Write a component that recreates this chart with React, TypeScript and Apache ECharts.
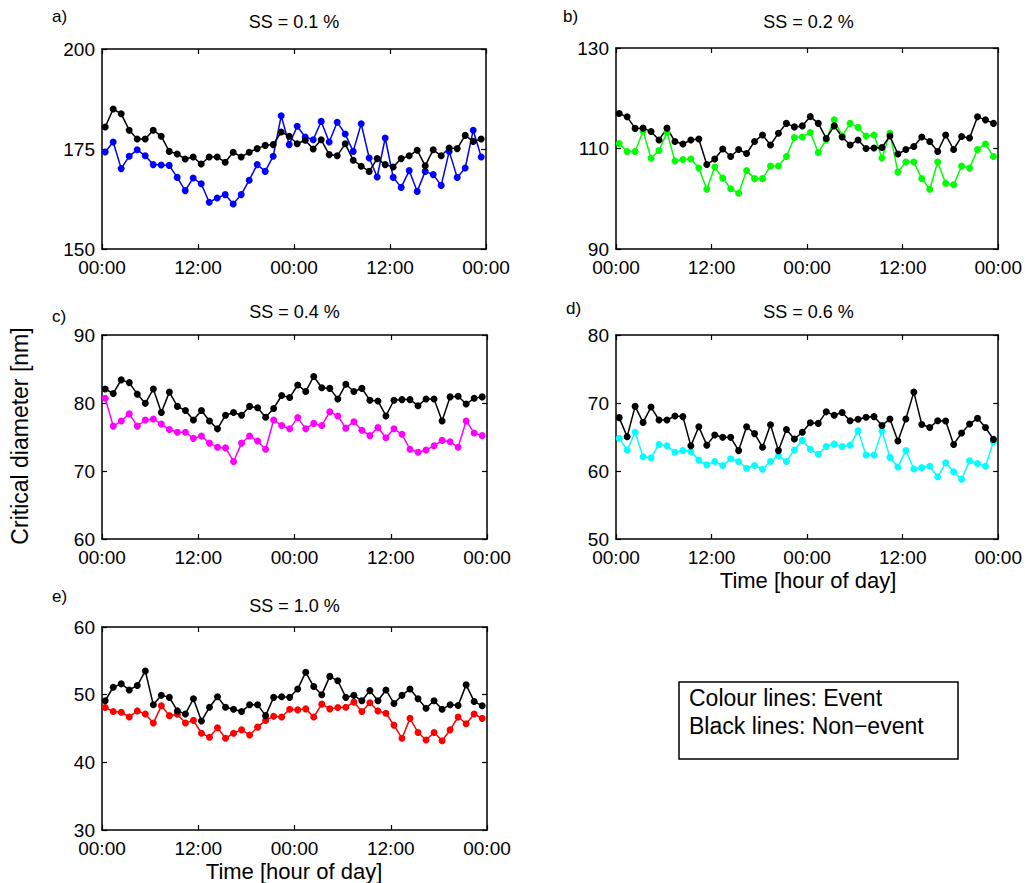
import React, { useEffect, useRef } from "react";
import * as echarts from "echarts";

// Hourly sample times over two days (hours since the first midnight)
const hours = Array.from({ length: 48 }, (_, i) => i + 0.4);

// SS = 0.1 %
const aEvent = [174.25, 176.75, 170.1, 173.2, 174.8, 173.3, 171.1, 171, 170.9, 167.9,
  164.6, 167.75, 166.3, 161.7, 162.75, 163.6, 161.25, 163.6, 167.2, 171.1,
  169.4, 173.2, 183.3, 176.1, 180.7, 178, 177.3, 181.9, 176.75, 181.7,
  178.75, 174.4, 181.3, 172.75, 168, 177.75, 167.9, 165.4, 169.6, 164.4,
  169.4, 168.6, 165.9, 174.4, 167.9, 170.25, 179.7, 173];
const aNonEvent = [180.5, 185, 183.8, 179.7, 177.5, 177.5, 179.7, 178.2, 174.4, 173.75,
  172.5, 173, 171.25, 173, 173, 171.7, 174.2, 173, 174.2, 175.1,
  175.9, 176.1, 179.25, 178.2, 176.3, 177.2, 175, 177.3, 173.6, 173.3,
  176.3, 172.2, 170.7, 169.4, 172.6, 171.1, 170.5, 172.6, 173.3, 174.7,
  170.8, 174.8, 173.3, 175.25, 175.1, 178.4, 176.9, 177.5];

// SS = 0.2 %
const bEvent = [111, 109.4, 109.4, 113.5, 108.05, 109.6, 113.2, 107.5, 107.8, 107.9,
  106.1, 101.9, 106.3, 104.1, 102, 101.1, 105.6, 104, 104, 106.5,
  106.5, 108.4, 112.2, 112.3, 113.2, 109.2, 111.7, 115.7, 112.5, 115,
  114.2, 112.5, 112.7, 108.1, 113.05, 105.3, 107.3, 107.3, 104, 101.9,
  107.3, 103.1, 102.8, 106.5, 106.1, 109.8, 110.9, 108.4];
const bNonEvent = [116.95, 116.3, 114, 114.05, 113.4, 111.7, 114.05, 111.4, 110.9, 111.7,
  111.9, 106.8, 107.9, 109.9, 108.4, 109.8, 109, 111.4, 112.7, 110.7,
  113.05, 115, 114.3, 114.5, 116.35, 115, 112, 114.5, 112.3, 110.7,
  111.7, 110, 110.1, 110.2, 112.5, 108.9, 109.8, 110.4, 112.3, 111.4,
  109.4, 112.7, 109.8, 112.4, 112.1, 116.3, 115.7, 115];

// SS = 0.4 %
const cEvent = [80.7, 76.6, 77.35, 78.4, 76.6, 77.5, 77.65, 76.9, 76.1, 75.7,
  75.7, 74.8, 75.15, 74.1, 73.5, 73.4, 71.4, 74.1, 75.15, 74.4,
  73.2, 77.5, 76.7, 76.2, 77.85, 76.2, 77, 76.7, 78.7, 78.1,
  76.3, 77.25, 76, 75.2, 76.4, 74.9, 76.2, 75.4, 73.2, 72.75,
  73.1, 73.7, 74.5, 74.3, 73.5, 77.35, 75.6, 75.2];
const cNonEvent = [82.06, 81.4, 83.4, 83, 81.3, 79.95, 82.06, 78.6, 81.6, 79.5,
  78.9, 77.5, 78.9, 77.35, 76.2, 78.2, 78.6, 78.2, 79.5, 79.3,
  77.9, 79.2, 81.1, 80.8, 82.65, 81.7, 83.9, 82.25, 82.15, 80.6,
  82.75, 81.7, 82.15, 80.4, 80.3, 78.1, 80.4, 80.5, 80.5, 79.6,
  80.6, 80.6, 77.35, 80.9, 81, 79.85, 80.7, 80.9];

// SS = 0.6 %
const dEvent = [64.8, 63.1, 65.7, 62.1, 61.95, 63.9, 63.7, 62.75, 63, 62.85,
  61.6, 60.9, 61.4, 60.8, 61.8, 61.4, 60.4, 60.8, 60.25, 61.4,
  62.25, 61.4, 63.1, 64.5, 63.2, 62.45, 63.6, 63.95, 63.6, 63.8,
  65.9, 62.35, 62.35, 65.9, 62, 60.6, 63, 60.3, 60.5, 60.7,
  59.15, 61.2, 59.9, 58.8, 61.5, 61.1, 60.7, 64.3];
const dNonEvent = [67.85, 65.05, 69.5, 67.15, 69.4, 67.5, 67.5, 68.1, 68, 63.7,
  66.5, 63.8, 65.3, 64.95, 64.95, 63, 66.5, 65.5, 63.5, 66.8,
  63, 66.1, 64.7, 65.7, 67.1, 67, 68.7, 68.2, 68.6, 67.4,
  67.6, 67.9, 68, 66.7, 67.65, 64.4, 67.65, 71.6, 66.85, 66.4,
  67.4, 67.35, 63.9, 65.6, 66.9, 67.75, 66.4, 64.65];

// SS = 1.0 %
const eEvent = [48.1, 47.5, 47.4, 46.7, 47.6, 47.15, 45.8, 48.35, 46.9, 47.1,
  45.8, 46.2, 44.3, 43.7, 45.1, 43.55, 44.3, 44.8, 44.05, 45.2,
  46.2, 46.8, 46.7, 47.85, 47.75, 47.9, 46.7, 48.6, 47.9, 48.1,
  48.15, 48.9, 47.5, 48.8, 47.6, 47.25, 45.5, 43.55, 46.5, 44.4,
  43.3, 44.4, 43.2, 44.8, 46.7, 45.7, 47.15, 46.5];
const eNonEvent = [49.1, 51.1, 51.6, 50.7, 51.35, 53.5, 48.5, 49.9, 49.6, 47.6,
  47.15, 49.4, 46.1, 48.15, 49.7, 48.15, 47.85, 47.5, 48.5, 48.5,
  46.9, 49.6, 49.7, 49.6, 50.85, 53.3, 51.2, 50, 52.7, 52.05,
  49.6, 49.9, 49.1, 50.6, 49.1, 50.7, 48.7, 49.9, 50.85, 49.4,
  48, 49.1, 47.85, 48.5, 48.4, 51.45, 49, 48.35];

const xTicks = [0, 12, 24, 36, 48];
const xTickLabels = ["00:00", "12:00", "00:00", "12:00", "00:00"];

const FONT = "'Liberation Sans', Arial, Helvetica, sans-serif";

const panels = [
  { letter: "a)", title: "SS = 0.1 %", event: aEvent, non: aNonEvent, color: "#0000ff",
    yMin: 150, yMax: 200, yStep: 25,
    box: { left: 102, top: 49, width: 384, height: 200 }, letterPos: [52, 18], titleY: 22 },
  { letter: "b)", title: "SS = 0.2 %", event: bEvent, non: bNonEvent, color: "#00ff00",
    yMin: 90, yMax: 130, yStep: 20,
    box: { left: 616, top: 48, width: 385, height: 201 }, letterPos: [563, 18], titleY: 22 },
  { letter: "c)", title: "SS = 0.4 %", event: cEvent, non: cNonEvent, color: "#ff00ff",
    yMin: 60, yMax: 90, yStep: 10,
    box: { left: 102, top: 335, width: 385, height: 204 }, letterPos: [52, 318], titleY: 312 },
  { letter: "d)", title: "SS = 0.6 %", event: dEvent, non: dNonEvent, color: "#00ffff",
    yMin: 50, yMax: 80, yStep: 10,
    box: { left: 616, top: 335, width: 385, height: 204 }, letterPos: [566, 310], titleY: 312 },
  { letter: "e)", title: "SS = 1.0 %", event: eEvent, non: eNonEvent, color: "#ff0000",
    yMin: 30, yMax: 60, yStep: 10,
    box: { left: 102, top: 627, width: 385, height: 203 }, letterPos: [52, 598], titleY: 606 },
];

const pair = (vals: number[]) => vals.map((v, i) => [hours[i], v]);

function buildOption() {
  const grid: any[] = [];
  const xAxis: any[] = [];
  const yAxis: any[] = [];
  const series: any[] = [];
  const graphic: any[] = [];

  const line = { show: true, onZero: false, lineStyle: { color: "#000", width: 1.5 } };
  const tick = { show: true, inside: true, length: 5, lineStyle: { color: "#000", width: 1.2 } };
  const label = { color: "#000", fontSize: 19, fontFamily: FONT, lineHeight: 19 };

  panels.forEach((p, i) => {
    grid.push({ ...p.box, containLabel: false });
    const xBase = { gridIndex: i, type: "value", min: 0, max: 48, interval: 12,
      axisLine: line, axisTick: tick, splitLine: { show: false } };
    xAxis.push({ ...xBase, position: "bottom",
      axisLabel: { ...label, margin: 9,
        formatter: (v: number) => xTickLabels[xTicks.indexOf(v)] ?? "" } });
    xAxis.push({ ...xBase, position: "top", axisLabel: { show: false } });
    const yBase = { gridIndex: i, type: "value", min: p.yMin, max: p.yMax, interval: p.yStep,
      axisLine: line, axisTick: tick, splitLine: { show: false } };
    yAxis.push({ ...yBase, position: "left", axisLabel: { ...label, margin: 7 } });
    yAxis.push({ ...yBase, position: "right", axisLabel: { show: false } });

    const common = { type: "line", xAxisIndex: 2 * i, yAxisIndex: 2 * i,
      symbol: "circle", symbolSize: 7, showSymbol: true, silent: true };
    series.push({ ...common, name: p.title + " event", data: pair(p.event),
      itemStyle: { color: p.color }, lineStyle: { color: p.color, width: 1.5 } });
    series.push({ ...common, name: p.title + " non-event", data: pair(p.non),
      itemStyle: { color: "#000" }, lineStyle: { color: "#000", width: 1.5 } });

    graphic.push({ type: "text", left: p.letterPos[0], top: p.letterPos[1] - 10,
      style: { text: p.letter, font: `17px ${FONT}`, fill: "#000" } });
    graphic.push({ type: "text", x: p.box.left + p.box.width / 2, y: p.titleY,
      style: { text: p.title, font: `18px ${FONT}`, fill: "#000",
        textAlign: "center", textVerticalAlign: "middle" } });
  });

  // Shared y-axis title
  graphic.push({ type: "text", x: 20, y: 436, rotation: Math.PI / 2,
    style: { text: "Critical diameter [nm]", font: `23px ${FONT}`, fill: "#000",
      textAlign: "center", textVerticalAlign: "middle" } });
  // x-axis titles under the bottom panels of each column
  graphic.push({ type: "text", x: 808, y: 580,
    style: { text: "Time [hour of day]", font: `22px ${FONT}`, fill: "#000",
      textAlign: "center", textVerticalAlign: "middle" } });
  graphic.push({ type: "text", x: 294, y: 871,
    style: { text: "Time [hour of day]", font: `22px ${FONT}`, fill: "#000",
      textAlign: "center", textVerticalAlign: "middle" } });

  // Legend note box
  graphic.push({ type: "rect", shape: { x: 679, y: 682, width: 279, height: 77 },
    style: { fill: "#fff", stroke: "#000", lineWidth: 1.5 } });
  graphic.push({ type: "text", x: 689, y: 698,
    style: { text: "Colour lines: Event", font: `23px ${FONT}`, fill: "#000",
      textAlign: "left", textVerticalAlign: "middle" } });
  graphic.push({ type: "text", x: 689, y: 726,
    style: { text: "Black lines: Non\u2212event", font: `23px ${FONT}`, fill: "#000",
      textAlign: "left", textVerticalAlign: "middle" } });

  return { animation: false, backgroundColor: "#fff", grid, xAxis, yAxis, series, graphic };
}

export default function App() {
  const ref = useRef<HTMLDivElement>(null);
  useEffect(() => {
    if (!ref.current) return;
    const chart = echarts.init(ref.current, undefined, { renderer: "svg" });
    chart.setOption(buildOption() as any);
    return () => chart.dispose();
  }, []);
  return (
    <div ref={ref}
      style={{ position: "absolute", left: 0, top: 0, width: 1025, height: 883, background: "#fff" }} />
  );
}
